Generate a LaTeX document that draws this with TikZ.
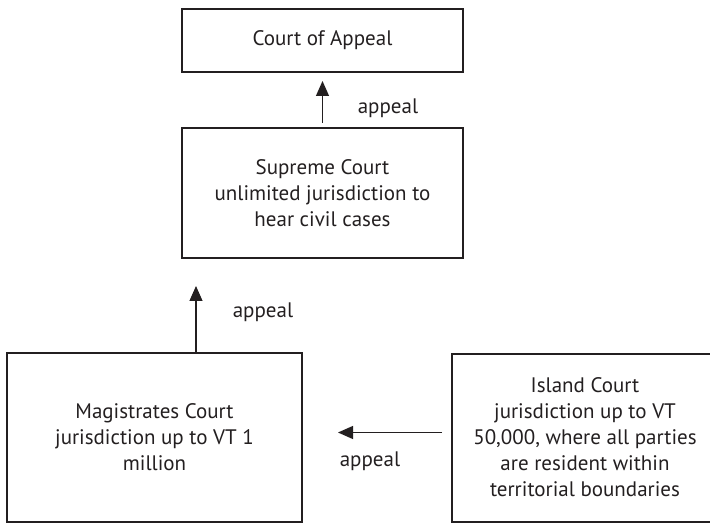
\documentclass[tikz,border=0pt]{standalone}
\usepackage{fontspec}
\setmainfont{PT Sans}
\usetikzlibrary{arrows.meta}
\definecolor{ink}{HTML}{231F20}

\begin{document}
\begin{tikzpicture}[x=0.5pt,y=0.5pt,>={Triangle[length=7.5pt,width=6.5pt]},
  court/.style={draw=ink,line width=1pt,align=center,inner sep=0pt,
    font=\fontsize{10.5}{13}\selectfont,text=ink},
  lbl/.style={font=\fontsize{10.5}{13}\selectfont,text=ink,inner sep=0pt},
  link/.style={draw=ink,->,line width=0.6pt}]
\useasboundingbox (-322.5,40.5) rectangle (387.5,-482.5);
\draw (0,0) node[court,minimum width=140.5pt,minimum height=31.5pt] (appealCourt) {Court of Appeal};
\draw (appealCourt) ++ (0,-152.5) node[court,minimum width=140.5pt,minimum height=65pt] (supremeCourt)
  {Supreme Court\\ unlimited jurisdiction to\\ hear civil cases};
\path[link,shorten <=2pt,shorten >=4pt] (supremeCourt.north) -- (appealCourt.south);
\draw (appealCourt) ++ (65.5,-67.5) node[lbl] (appealUp) {appeal};
%
\draw (supremeCourt) ++ (-168,-244.5) node[court,minimum width=147.5pt,minimum height=84.5pt] (magistratesCourt)
  {Magistrates Court\\ jurisdiction up to VT 1\\ million};
\path (magistratesCourt.north) ++ (41.5,0) coordinate (magistratesOut);
\path (magistratesOut) ++ (0,66) coordinate (magistratesTip);
\path[link] (magistratesOut) -- (magistratesTip);
\draw (supremeCourt) ++ (-59.5,-119) node[lbl] (appealMid) {appeal};
%
\draw (magistratesCourt) ++ (430.5,0) node[court,minimum width=133pt,minimum height=84pt] (islandCourt)
  {Island Court\\ jurisdiction up to VT\\ 50,000, where all parties\\ are resident within\\ territorial boundaries};
\path (islandCourt.west) ++ (-9,5) coordinate (islandOut);
\path (magistratesCourt.east) ++ (35,5) coordinate (islandTip);
\path[link] (islandOut) -- (islandTip);
\draw (magistratesCourt) ++ (215.5,-23.5) node[lbl] (appealLow) {appeal};
\end{tikzpicture}
\end{document}
